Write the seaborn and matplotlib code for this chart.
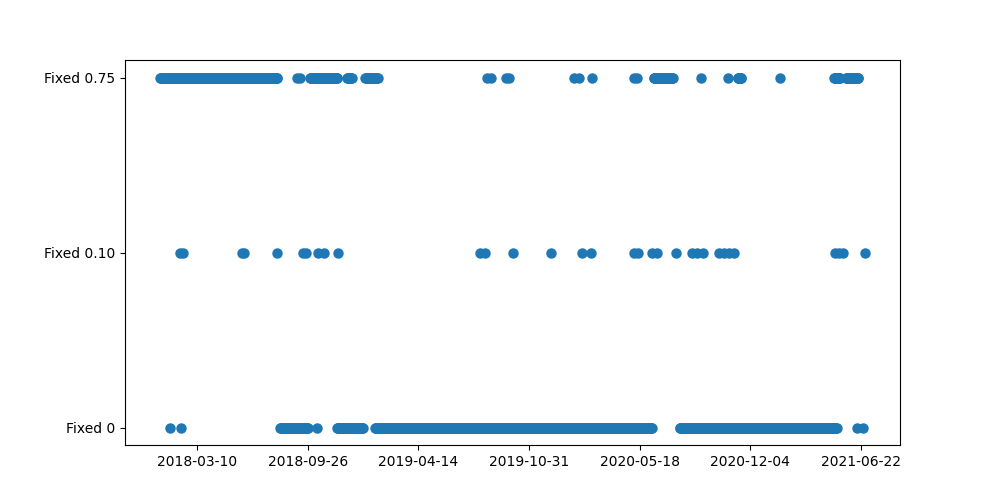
import pandas as pd
import seaborn as sns
import matplotlib.pyplot as plt
import matplotlib.dates as mdates

# categories, bottom to top
categories = ['Fixed 0', 'Fixed 0.10', 'Fixed 0.75']

runs_fixed_0 = [
    ('2018-01-20', '2018-01-20'), ('2018-02-08', '2018-02-08'),
    ('2018-08-07', '2018-09-26'), ('2018-10-12', '2018-10-12'),
    ('2018-11-18', '2019-01-03'), ('2019-01-26', '2020-06-09'),
    ('2020-07-29', '2021-05-09'), ('2021-06-15', '2021-06-15'),
    ('2021-06-26', '2021-06-26'),
]
runs_fixed_010 = [
    ('2018-02-06', '2018-02-06'), ('2018-02-12', '2018-02-12'),
    ('2018-05-30', '2018-05-30'), ('2018-06-03', '2018-06-03'),
    ('2018-08-02', '2018-08-02'), ('2018-09-18', '2018-09-18'),
    ('2018-09-23', '2018-09-23'), ('2018-10-14', '2018-10-14'),
    ('2018-10-26', '2018-10-26'), ('2018-11-19', '2018-11-19'),
    ('2019-08-04', '2019-08-04'), ('2019-08-13', '2019-08-13'),
    ('2019-10-02', '2019-10-02'), ('2019-12-10', '2019-12-10'),
    ('2020-02-03', '2020-02-03'), ('2020-02-20', '2020-02-20'),
    ('2020-05-08', '2020-05-08'), ('2020-05-15', '2020-05-15'),
    ('2020-06-09', '2020-06-09'), ('2020-06-18', '2020-06-18'),
    ('2020-07-22', '2020-07-22'), ('2020-08-20', '2020-08-20'),
    ('2020-08-29', '2020-08-29'), ('2020-09-09', '2020-09-09'),
    ('2020-10-08', '2020-10-08'), ('2020-10-17', '2020-10-17'),
    ('2020-10-26', '2020-10-26'), ('2020-11-04', '2020-11-04'),
    ('2021-05-06', '2021-05-06'), ('2021-05-13', '2021-05-13'),
    ('2021-05-20', '2021-05-20'), ('2021-06-29', '2021-06-29'),
]
runs_fixed_075 = [
    ('2018-01-02', '2018-08-02'), ('2018-09-07', '2018-09-07'),
    ('2018-09-12', '2018-09-12'), ('2018-09-30', '2018-11-18'),
    ('2018-12-06', '2018-12-14'), ('2019-01-08', '2019-01-30'),
    ('2019-08-15', '2019-08-15'), ('2019-08-24', '2019-08-24'),
    ('2019-09-20', '2019-09-20'), ('2019-09-24', '2019-09-24'),
    ('2020-01-21', '2020-01-21'), ('2020-01-29', '2020-01-29'),
    ('2020-02-22', '2020-02-22'), ('2020-05-07', '2020-05-07'),
    ('2020-05-14', '2020-05-14'), ('2020-06-12', '2020-07-17'),
    ('2020-09-05', '2020-09-05'), ('2020-10-24', '2020-10-24'),
    ('2020-11-11', '2020-11-18'), ('2021-01-27', '2021-01-27'),
    ('2021-05-05', '2021-05-15'), ('2021-05-26', '2021-06-17'),
]

tick_dates = ['2018-03-10', '2018-09-26', '2019-04-14', '2019-10-31',
              '2020-05-18', '2020-12-04', '2021-06-22']

# one row per observed day
rows = []
for code, runs in enumerate([runs_fixed_0, runs_fixed_010, runs_fixed_075]):
    for start, end in runs:
        for d in pd.date_range(start, end, freq='D'):
            rows.append({'date': d, 'level': code})
df = pd.DataFrame(rows)

fig, ax = plt.subplots(figsize=(10, 5))
sns.scatterplot(data=df, x='date', y='level', ax=ax, color='#1f77b4',
                s=36, edgecolor='face', linewidth=1.5, legend=False)

ax.set_yticks(range(len(categories)))
ax.set_yticklabels(categories)
ax.set_xticks(pd.to_datetime(tick_dates))
ax.xaxis.set_major_formatter(mdates.DateFormatter('%Y-%m-%d'))
ax.set_xlabel('')
ax.set_ylabel('')

plt.savefig('out.png', dpi=100)
